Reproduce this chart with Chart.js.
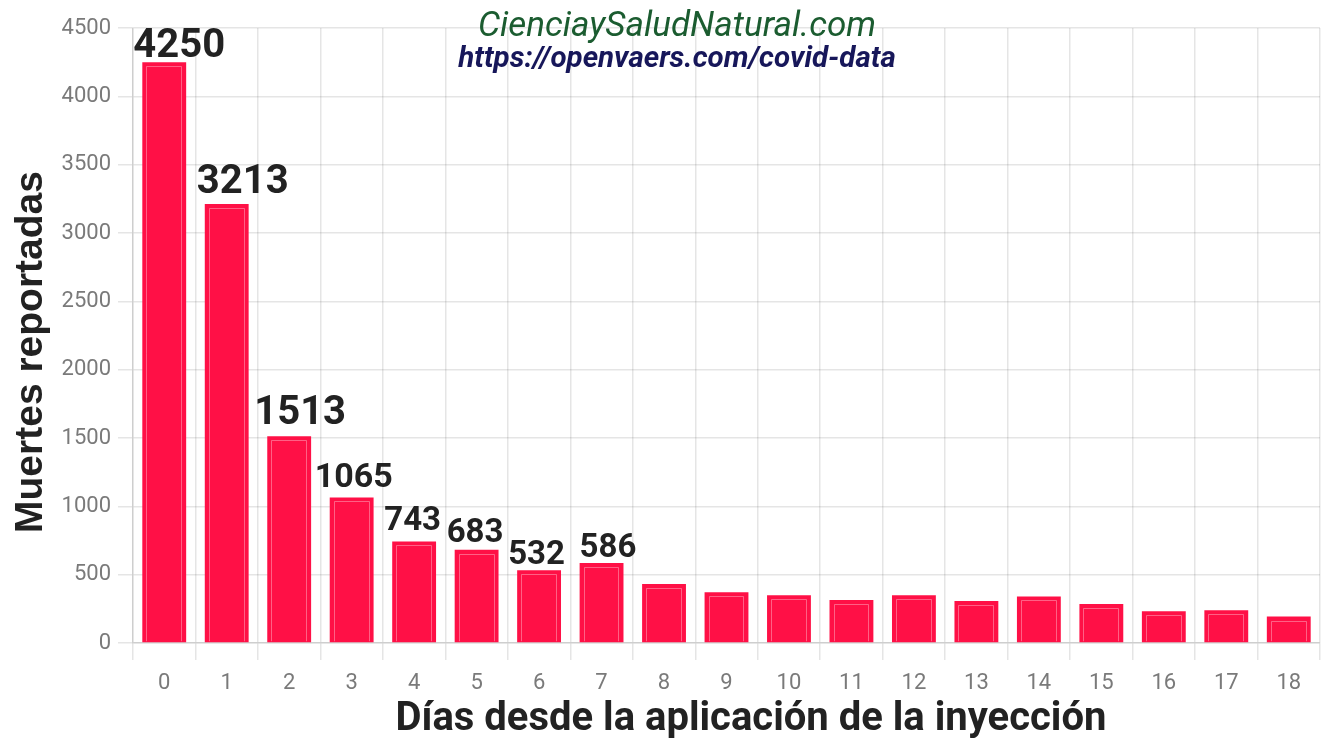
<!DOCTYPE html>
<html>
<head>
<meta charset="utf-8">
<title>Muertes reportadas por días desde la inyección</title>
<script src="https://cdn.jsdelivr.net/npm/chart.js@4/dist/chart.umd.min.js"></script>
<style>
    html, body { margin: 0; padding: 0; background: #ffffff; }
    #wrap { width: 1321px; height: 740px; }
</style>
</head>
<body>
<div id="wrap"><canvas id="deathsChart" width="1321" height="740"></canvas></div>
<script>
var dayLabels = ['0', '1', '2', '3', '4', '5', '6', '7', '8', '9', '10', '11', '12', '13', '14', '15', '16', '17', '18'];
var deaths = [4250, 3213, 1513, 1065, 743, 683, 532, 586, 432, 371, 349, 315, 349, 307, 341, 285, 232, 239, 193];
// only the first 8 bars carry a value label
var labelledDays = 8;
var yTicks = [0, 500, 1000, 1500, 2000, 2500, 3000, 3500, 4000, 4500];

var siteTitle = 'CienciaySaludNatural.com';
var sourceTitle = 'https://openvaers.com/covid-data';
var xTitle = 'Días desde la aplicación de la inyección';
var yTitle = 'Muertes reportadas';

document.addEventListener('DOMContentLoaded', function () {
    var canvas = document.getElementById('deathsChart');

    var BAR = '#ff1046';
    var GRID = 'rgba(0, 0, 0, 0.1)';
    var TICK = '#7a7a7a';
    var INK = '#222222';

    // hand placed labels in the source: size, left shift, gap above bar
    var labelSizes = [40, 40, 40, 34, 33, 33, 33, 33];
    var labelShift = [-9, -8, -13, -15, -8, -8, -9, 0];
    var labelGap = [5, 11, 12, 10, 11, 8, 6, 6];

    var barLabels = {
        id: 'barLabels',
        afterDatasetsDraw: function (chart) {
            var ctx = chart.ctx;
            var meta = chart.getDatasetMeta(0);
            ctx.save();
            ctx.fillStyle = INK;
            ctx.textAlign = 'left';
            ctx.textBaseline = 'alphabetic';
            for (var i = 0; i < labelledDays && i < meta.data.length; i++) {
                var bar = meta.data[i];
                ctx.font = 'bold ' + labelSizes[i] + 'px Roboto';
                ctx.fillText(String(deaths[i]), bar.x - bar.width / 2 + labelShift[i], bar.y - labelGap[i]);
            }
            ctx.restore();
        }
    };

    var barInset = {
        id: 'barInset',
        afterDatasetDraw: function (chart) {
            var ctx = chart.ctx;
            var meta = chart.getDatasetMeta(0);
            ctx.save();
            ctx.strokeStyle = 'rgba(255, 150, 175, 0.6)';
            ctx.lineWidth = 1;
            meta.data.forEach(function (bar) {
                var l = Math.round(bar.x - bar.width / 2) + 4.5;
                var r = Math.round(bar.x + bar.width / 2) - 4.5;
                var t = Math.round(bar.y) + 4.5;
                var b = bar.base - 1;
                ctx.beginPath();
                ctx.moveTo(l, b);
                ctx.lineTo(l, t);
                ctx.lineTo(r, t);
                ctx.lineTo(r, b);
                ctx.stroke();
            });
            ctx.restore();
        }
    };

    var textLayer = {
        id: 'textLayer',
        afterDraw: function (chart) {
            var ctx = chart.ctx;
            ctx.save();
            ctx.textAlign = 'center';
            ctx.textBaseline = 'alphabetic';

            ctx.fillStyle = '#1b5c30';
            ctx.font = 'italic 35px Roboto';
            ctx.fillText(siteTitle, 677, 36);
            ctx.fillStyle = '#17175a';
            ctx.font = 'italic bold 29.5px Roboto';
            ctx.fillText(sourceTitle, 677, 67);

            ctx.fillStyle = INK;
            ctx.font = 'bold 40px Roboto';
            ctx.fillText(xTitle, 751, 730);

            ctx.translate(42, 352);
            ctx.rotate(-Math.PI / 2);
            ctx.font = "bold 39px 'Liberation Sans', Arial, sans-serif";
            ctx.fillText(yTitle, 0, 0);
            ctx.restore();
        }
    };

    new Chart(canvas, {
        type: 'bar',
        data: {
            labels: dayLabels,
            datasets: [
                {
                    label: yTitle,
                    data: deaths,
                    backgroundColor: BAR,
                    borderWidth: 0,
                    barPercentage: 0.9,
                    categoryPercentage: 0.78
                }
            ]
        },
        options: {
            responsive: false,
            animation: false,
            layout: {
                padding: { top: 28, right: 1, left: 0, bottom: 0 }
            },
            plugins: {
                legend: { display: false },
                tooltip: { enabled: false }
            },
            scales: {
                x: {
                    grid: {
                        color: GRID,
                        lineWidth: 1.5,
                        tickLength: 17,
                        offset: true
                    },
                    border: { color: GRID, width: 1.5 },
                    ticks: {
                        color: TICK,
                        padding: 10,
                        font: { family: 'Roboto', size: 22 }
                    },
                    afterFit: function (scale) {
                        scale.height = 97;
                    }
                },
                y: {
                    min: 0,
                    max: 4500,
                    afterBuildTicks: function (scale) {
                        scale.ticks = yTicks.map(function (v) { return { value: v }; });
                    },
                    grid: {
                        color: GRID,
                        lineWidth: 1.5,
                        tickLength: 15
                    },
                    border: { color: GRID, width: 1.5 },
                    ticks: {
                        color: TICK,
                        padding: 7,
                        font: { family: 'Roboto', size: 22 },
                        callback: function (value) { return String(value); }
                    },
                    afterFit: function (scale) {
                        scale.width = 133;
                    }
                }
            }
        },
        plugins: [barInset, barLabels, textLayer]
    });
});
</script>
</body>
</html>
